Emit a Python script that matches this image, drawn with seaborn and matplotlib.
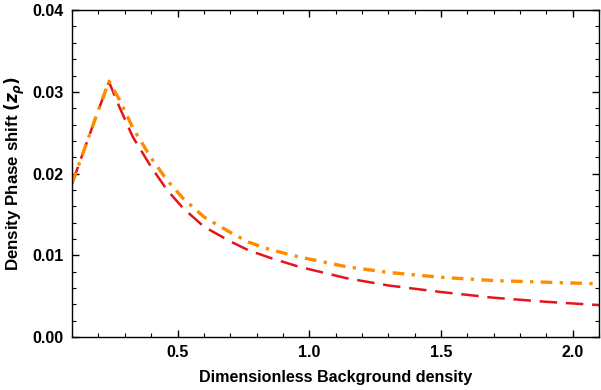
import matplotlib
matplotlib.use("Agg")
import matplotlib.pyplot as plt
from matplotlib.ticker import MultipleLocator
import numpy as np
import pandas as pd
import seaborn as sns

# ── Data ──────────────────────────────────────────────────────────────
density_red = [0.10, 0.15, 0.20, 0.24, 0.28, 0.33, 0.40, 0.46, 0.52, 0.60,
               0.70, 0.77, 0.85, 0.96, 1.14, 1.30, 1.50, 1.70, 1.90, 2.10]
shift_red = [0.0188, 0.0233, 0.0278, 0.0312, 0.0281, 0.0245, 0.0208, 0.0180,
             0.0158, 0.0135, 0.0117, 0.0106, 0.0097, 0.0086, 0.0072, 0.0063,
             0.0055, 0.0048, 0.0043, 0.0039]

density_orange = [0.10, 0.15, 0.20, 0.24, 0.28, 0.33, 0.40, 0.46, 0.52, 0.60,
                  0.70, 0.77, 0.85, 0.96, 1.14, 1.30, 1.50, 1.70, 1.90, 2.10]
shift_orange = [0.0188, 0.0233, 0.0278, 0.0313, 0.0290, 0.0256, 0.0219, 0.0192,
                0.0170, 0.0147, 0.0128, 0.0116, 0.0107, 0.0098, 0.0086, 0.0079,
                0.0073, 0.0069, 0.0067, 0.0065]

RED = "#e5141b"
ORANGE = "#ff8c00"

sns.set_style("ticks")
plt.rcParams.update({
    "font.family": ["Liberation Sans", "DejaVu Sans"],
    "font.weight": "bold",
    "font.size": 11,
    "mathtext.fontset": "dejavusans",
    "xtick.direction": "in",
    "ytick.direction": "in",
    "xtick.top": True,
    "ytick.right": True,
    "axes.linewidth": 1.0,
    "axes.edgecolor": "black",
    "text.color": "black",
    "axes.labelcolor": "black",
    "xtick.color": "black",
    "ytick.color": "black",
})

fig = plt.figure(figsize=(6.01, 3.90), dpi=100)
ax = fig.add_axes([0.12, 0.136, 0.877, 0.838])

red_df = pd.DataFrame({"x": density_red, "y": shift_red})
orange_df = pd.DataFrame({"x": density_orange, "y": shift_orange})

sns.lineplot(data=red_df, x="x", y="y", ax=ax, color=RED, linewidth=1.8,
             dashes=False)
sns.lineplot(data=orange_df, x="x", y="y", ax=ax, color=ORANGE, linewidth=2.4,
             dashes=False)
ax.lines[0].set_dashes([7, 3.5])
ax.lines[1].set_dashes([3.5, 2.2, 1, 2.2])

ax.set_xlim(0.1, 2.1)
ax.set_ylim(0.0, 0.04)
ax.xaxis.set_major_locator(MultipleLocator(0.5))
ax.xaxis.set_minor_locator(MultipleLocator(0.1))
ax.yaxis.set_major_locator(MultipleLocator(0.01))
ax.yaxis.set_minor_locator(MultipleLocator(0.002))
ax.xaxis.set_major_formatter(plt.FuncFormatter(lambda v, p: f"{v:.1f}"))
ax.yaxis.set_major_formatter(plt.FuncFormatter(lambda v, p: f"{v:.2f}"))
ax.tick_params(which="major", length=5, width=1, labelsize=11.5, pad=6)
ax.tick_params(which="minor", length=3, width=0.8)
for lab in ax.get_xticklabels() + ax.get_yticklabels():
    lab.set_fontweight("bold")

ax.set_xlabel("Dimensionless Background density", fontsize=11.6,
              fontweight="bold", labelpad=7)
ax.set_ylabel(r"Density Phase shift $(z_\rho)$", fontsize=12.2,
              fontweight="bold", labelpad=4)
for side in ["top", "right"]:
    ax.spines[side].set_visible(True)

fig.savefig("out.png", dpi=100)
